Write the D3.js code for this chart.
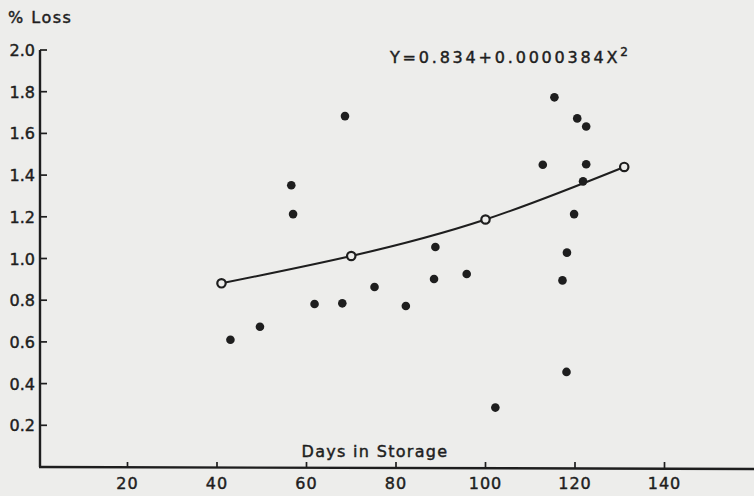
<!DOCTYPE html>
<html lang="en">
<head>
<meta charset="UTF-8">
<script src="https://d3js.org/d3.v7.min.js"></script>
<style>
    body { margin: 0; background: #ededeb; overflow: hidden; }
    svg text { font-family: "DejaVu Sans", sans-serif; fill: #1e1e1e; stroke: #1e1e1e; stroke-width: 0.45px; }
</style>
</head>
<body>
<svg id="chart" width="754" height="496"></svg>
<script>
// observed points: days in storage, % loss
const days = [43, 49.6, 56.6, 57, 61.8, 68, 68.6, 75.2, 82.2, 88.8, 88.5, 95.8, 102.2,
              112.8, 115.4, 117.2, 118.2, 118.1, 119.8, 120.5, 121.8, 122.5, 122.5];
const loss = [0.61, 0.673, 1.351, 1.213, 0.782, 0.785, 1.683, 0.863, 0.772, 1.055, 0.902, 0.926, 0.285,
              1.45, 1.773, 0.895, 1.028, 0.456, 1.213, 1.672, 1.37, 1.633, 1.452];

// fitted curve points (open circles)
const fitDays = [41, 70, 100, 131];
const fitLoss = [0.881, 1.012, 1.187, 1.439];

const xTicks = [20, 40, 60, 80, 100, 120, 140];
const yTicks = [0.2, 0.4, 0.6, 0.8, 1.0, 1.2, 1.4, 1.6, 1.8, 2.0];

const svg = d3.select("#chart");
const ink = "#1e1e1e";

const x = d3.scaleLinear().domain([0, 160]).range([38, 754]);
const y = d3.scaleLinear().domain([0, 2]).range([467, 50]);

// axes
svg.append("line")
    .attr("x1", x(0) + 2).attr("x2", x(0) + 2)
    .attr("y1", y(2)).attr("y2", y(0))
    .attr("stroke", ink).attr("stroke-width", 2.4);
svg.append("line")
    .attr("x1", x(0) + 1).attr("x2", 754)
    .attr("y1", y(0)).attr("y2", y(0) + 2)
    .attr("stroke", ink).attr("stroke-width", 2.4);

const yAxis = svg.append("g");
yAxis.selectAll("line").data(yTicks).join("line")
    .attr("x1", x(0) + 2).attr("x2", x(0) + 9)
    .attr("y1", d => y(d)).attr("y2", d => y(d))
    .attr("stroke", ink).attr("stroke-width", 1.7);
yAxis.selectAll("text").data(yTicks).join("text")
    .attr("x", x(0) - 3).attr("y", d => y(d) + 6)
    .attr("text-anchor", "end")
    .style("font-size", "16px")
    .text(d => d.toFixed(1));

const xAxis = svg.append("g");
xAxis.selectAll("line").data(xTicks).join("line")
    .attr("x1", d => x(d)).attr("x2", d => x(d))
    .attr("y1", d => y(0) + (x(d) - x(0)) / 716 * 2).attr("y2", d => y(0) - 5)
    .attr("stroke", ink).attr("stroke-width", 1.7);
xAxis.selectAll("text").data(xTicks).join("text")
    .attr("x", d => x(d)).attr("y", 489)
    .attr("text-anchor", "middle")
    .style("font-size", "16px")
    .style("letter-spacing", "1px")
    .text(d => d);

// labels
svg.append("text").attr("x", 8).attr("y", 23).style("font-size", "16px")
    .style("letter-spacing", "1.5px").text("% Loss");
svg.append("text").attr("x", 375).attr("y", 457).attr("text-anchor", "middle")
    .style("font-size", "16px").style("letter-spacing", "1.3px").text("Days in Storage");
const eq = svg.append("text").attr("x", 390).attr("y", 63).style("font-size", "16px")
    .style("letter-spacing", "2.8px").text("Y=0.834+0.0000384X");
eq.append("tspan").attr("dy", -7).style("font-size", "12px").text("2");

// fitted curve
const fit = fitDays.map((d, i) => [d, fitLoss[i]]);
svg.append("path")
    .datum(fit)
    .attr("fill", "none").attr("stroke", ink).attr("stroke-width", 2)
    .attr("d", d3.line().x(d => x(d[0])).y(d => y(d[1])).curve(d3.curveNatural));

// observed points
svg.append("g").selectAll("circle").data(days).join("circle")
    .attr("cx", d => x(d)).attr("cy", (d, i) => y(loss[i]))
    .attr("r", 4.3).attr("fill", ink);

svg.append("g").selectAll("circle").data(fit).join("circle")
    .attr("cx", d => x(d[0])).attr("cy", d => y(d[1]))
    .attr("r", 4.2).attr("fill", "#ededeb").attr("stroke", ink).attr("stroke-width", 2.2);
</script>
</body>
</html>
